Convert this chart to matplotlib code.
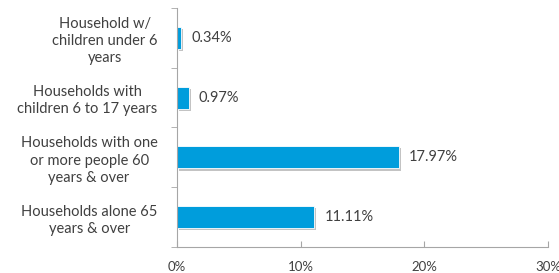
import matplotlib.pyplot as plt
import matplotlib.patheffects as pe
from matplotlib.ticker import FixedLocator, PercentFormatter

categories = ["Household w/\nchildren under 6\nyears",
              "Households with\nchildren 6 to 17 years",
              "Households with one\nor more people 60\nyears & over",
              "Households alone 65\nyears & over"]
values = [0.34, 0.97, 17.97, 11.11]
xticks = [0, 10, 20, 30]

grey = "#404040"
axis_grey = "#a6a6a6"
blue = "#009ddc"

plt.rcParams['font.family'] = ['Lato', 'DejaVu Sans']

fig = plt.figure(figsize=(5.59, 2.73), dpi=100)
ax = fig.add_axes([0.3166, 0.095, 0.6637, 0.876])

ypos = list(range(len(categories)))
bars = ax.barh(ypos, values, height=0.37, color=blue,
               edgecolor="white", linewidth=0.6)
for b in bars:
    b.set_path_effects([pe.SimplePatchShadow(offset=(1.5, -1.5), shadow_rgbFace="#888888", alpha=0.5),
                        pe.Normal()])

for y, v in zip(ypos, values):
    ax.text(v + 0.8, y, f"{v:.2f}%", va="center", ha="left",
            fontsize=10.5, color=grey)

ax.set_xlim(0, 30)
ax.set_ylim(len(categories) - 0.5, -0.5)
ax.set_xticks(xticks)
ax.xaxis.set_major_formatter(PercentFormatter(decimals=0))
ax.set_yticks(ypos)
ax.set_yticklabels(categories)
for lab in ax.get_yticklabels():
    lab.set_multialignment("center")
    lab.set_linespacing(1.3)

ax.yaxis.set_minor_locator(FixedLocator([-0.5, 0.5, 1.5, 2.5, 3.5]))
ax.tick_params(axis="y", which="major", length=0, pad=14, labelsize=10.5, labelcolor=grey)
ax.tick_params(axis="y", which="minor", length=4, color=axis_grey, direction="out")
ax.tick_params(axis="x", length=4, direction="in", color=axis_grey,
               labelsize=9.5, labelcolor=grey, pad=10)

for s in ["top", "right"]:
    ax.spines[s].set_visible(False)
for s in ["left", "bottom"]:
    ax.spines[s].set_color(axis_grey)
    ax.spines[s].set_linewidth(0.8)

fig.savefig("out.png", dpi=100)
